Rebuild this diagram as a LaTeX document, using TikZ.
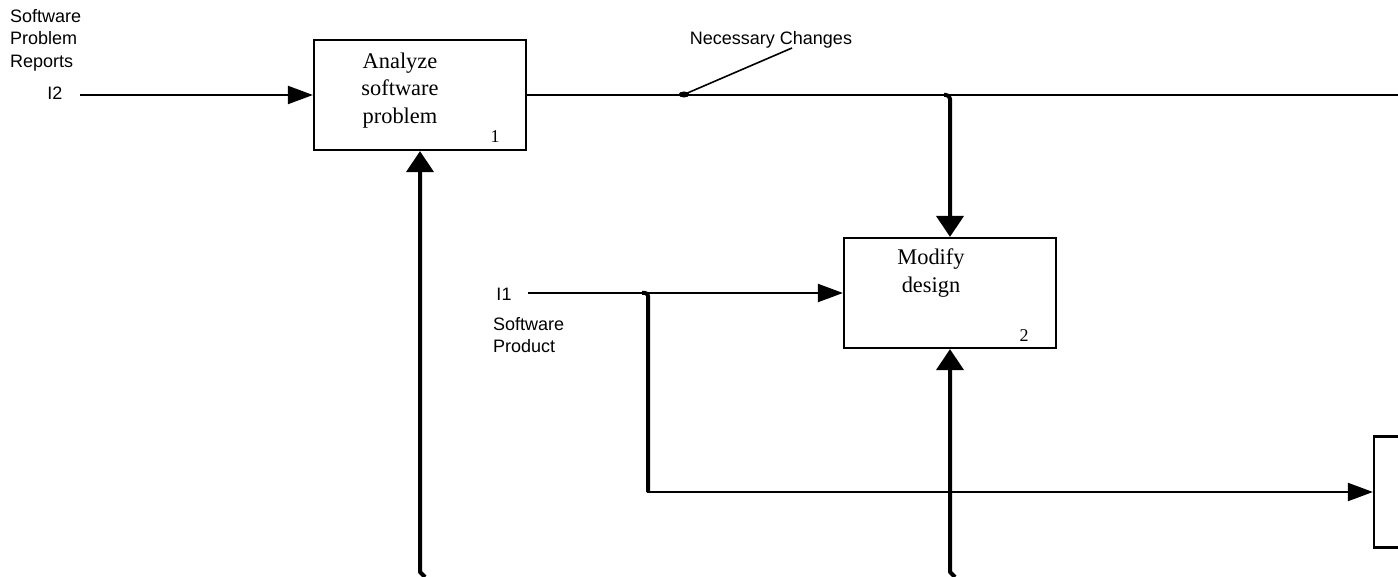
\documentclass[tikz,border=0pt]{standalone}
\usepackage{fontspec}
\setmainfont{Liberation Serif}
\newfontfamily\labelsans{Liberation Sans}
\usetikzlibrary{arrows.meta}
\tikzset{
  box/.style={draw, line width=2.2pt, minimum width=212pt, minimum height=110pt, inner sep=0pt},
  flow/.style={line width=2.2pt},
  ctrl/.style={line width=4pt, line join=round},
  tipH/.style={-{Triangle[length={25pt 0}, width={18pt 0}]}},
  tipV/.style={-{Triangle[length={21pt 0}, width={27pt 0}]}},
  lbl/.style={font=\labelsans\fontsize{18}{22.5}\selectfont, inner sep=0pt, align=left},
  act/.style={font=\fontsize{22.4}{27.5}\selectfont, inner sep=0pt, align=center},
  num/.style={font=\fontsize{18}{18}\selectfont, inner sep=0pt},
}
\begin{document}
\begin{tikzpicture}[x=1pt, y=-1pt]
\clip (0,0) rectangle (1398,577);

% activity boxes
\node[box] (a1) at (420,95) {};
\node[act, anchor=north] (t1) at (400,52.5) {Analyze\\software\\problem};
\node[num, anchor=base] (n1) at (495,143) {1};

\node[box] (a2) at (950,293) {};
\node[act, anchor=north] (t2) at (931,249) {Modify\\design};
\node[num, anchor=base] (n2) at (1024,342) {2};

\node[box, minimum width=60pt, minimum height=111pt] (a3) at (1404,492) {};

% input I2
\node[lbl, anchor=north west] (l2) at (10,9) {Software\\Problem\\Reports};
\node[lbl, anchor=base] (i2) at (55,100) {I2};
\coordinate (i2s) at (80,95);
\draw[flow, tipH] (i2s) -- (a1.west);

% output of box 1 with control branch to box 2
\coordinate (o1) at (1400,95);
\draw[flow] (a1.east) -- (o1);
\draw[ctrl, tipV, rounded corners=4pt] ([xshift=-6pt]a2.north |- o1) -- (a2.north |- o1) -- (a2.north);

% arrow label
\coordinate (nc) at (684,94.5);
\fill (nc) ellipse [x radius=5.5, y radius=3];
\coordinate (ncl) at (792,48);
\draw[line width=1.6pt] (nc) -- (ncl);
\node[lbl, anchor=base] (ncn) at (771,45) {Necessary Changes};

% input I1 with branch to box 3
\node[lbl, anchor=base] (i1) at (504,301) {I1};
\node[lbl, anchor=north west] (l1) at (493,317) {Software\\Product};
\coordinate (i1s) at (528,293);
\draw[flow, tipH] (i1s) -- (a2.west);
\coordinate (j1) at (648,293);
\coordinate (j2) at (648,492);
\draw[ctrl, rounded corners=3pt] ([xshift=-6pt]j1) -- (j1) -- (j2);
\draw[flow, tipH] ([xshift=-1pt]j2) -- (a3.west);

% mechanisms
\coordinate (m1) at (425,577);
\draw[ctrl, tipV] (m1) -- ++(-5,-5) -- (a1.south);
\coordinate (m2) at (955,577);
\draw[ctrl, tipV] (m2) -- ++(-5,-5) -- (a2.south);
\end{tikzpicture}
\end{document}
